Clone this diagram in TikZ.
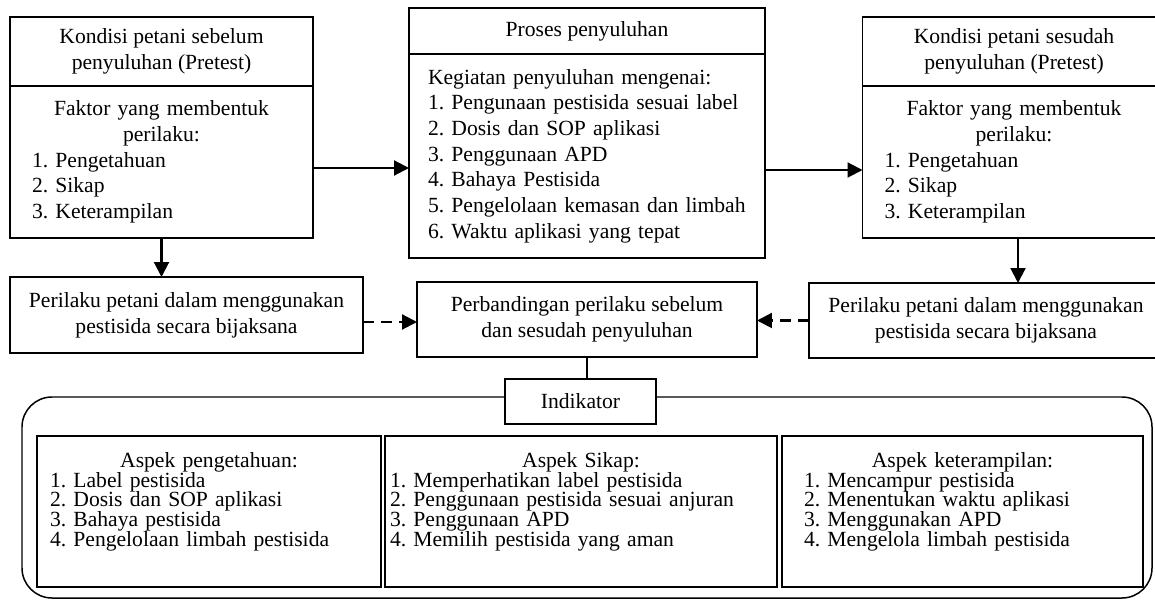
\documentclass[tikz,border=0pt]{standalone}
\usepackage{fontspec}
\setmainfont{Liberation Serif}
\usetikzlibrary{arrows.meta, positioning}
\setlength{\parindent}{0pt}
\frenchspacing

\begin{document}
\begin{tikzpicture}[>={Triangle[length=8.5pt, width=8.5pt]},
      font=\fontsize{12.3}{14.6}\selectfont,
      box/.style={draw, line width=0.75pt, outer sep=0pt, inner sep=0pt, align=center},
      hdr/.style={box, minimum width=6.06cm, minimum height=1.38cm},
      blk/.style={draw, line width=0.75pt, outer sep=0pt, inner ysep=0pt, align=left},
      aspbox/.style={blk, minimum height=3.02cm, font=\fontsize{12.3}{11.1}\selectfont,
                     execute at begin node={\lineskiplimit=-10pt\lineskip=0pt}},
      flow/.style={->, line width=1.2pt},
      dflow/.style={->, line width=1.2pt, dash pattern=on 6.3pt off 4pt}]
    \useasboundingbox (0,0) rectangle (23.1,-12.02);

    \node[hdr] (hdrL) at (3.23,-1.03) {Kondisi petani sebelum\\ penyuluhan (Pretest)};
    \node[blk, text width=5.18cm, inner xsep=0.44cm, minimum height=3.04cm,
          below=0pt of hdrL] (bodyL)
      {{\centering Faktor yang membentuk\\ perilaku:\par}\noindent
       1. Pengetahuan\\ 2. Sikap\\ 3. Keterampilan};

    \node[box, minimum width=7.12cm, minimum height=0.92cm] (hdrM) at (11.74,-0.62)
      {Proses penyuluhan};
    \node[blk, text width=6.36cm, inner xsep=0.38cm, minimum height=4.08cm,
          below=0pt of hdrM] (bodyM)
      {Kegiatan penyuluhan mengenai:\\ 1. Pengunaan pestisida sesuai label\\
       2. Dosis dan SOP aplikasi\\ 3. Penggunaan APD\\ 4. Bahaya Pestisida\\
       5. Pengelolaan kemasan dan limbah\\ 6. Waktu aplikasi yang tepat};

    \node[hdr] (hdrR) at (20.28,-1.03) {Kondisi petani sesudah\\ penyuluhan (Pretest)};
    \node[blk, text width=5.18cm, inner xsep=0.44cm, minimum height=3.04cm,
          below=0pt of hdrR] (bodyR)
      {{\centering Faktor yang membentuk\\ perilaku:\par}\noindent
       1. Pengetahuan\\ 2. Sikap\\ 3. Keterampilan};

    \node[box, minimum width=7.06cm, minimum height=1.52cm] (perilakuL) at (3.73,-6.30)
      {Perilaku petani dalam menggunakan\\ pestisida secara bijaksana};
    \node[box, minimum width=6.8cm, minimum height=1.5cm] (banding) at (11.74,-6.39)
      {Perbandingan perilaku sebelum\\ dan sesudah penyuluhan};
    \node[box, minimum width=7.08cm, minimum height=1.5cm] (perilakuR) at (19.72,-6.41)
      {Perilaku petani dalam menggunakan\\ pestisida secara bijaksana};

    \draw[flow] ([yshift=-1.2mm]bodyL.east) -- ([yshift=-1.2mm]bodyL.east -| bodyM.west);
    \draw[flow] ([yshift=-2.8mm]bodyM.east) -- ([yshift=-2.8mm]bodyM.east -| bodyR.west);
    \draw[flow] (bodyL.south) -- (bodyL.south |- perilakuL.north);
    \draw[flow] ([xshift=0.8mm]bodyR.south) -- ([xshift=0.8mm]bodyR.south |- perilakuR.north);
    \draw[dflow] ([yshift=-1.4mm]perilakuL.east) -- ([yshift=-1.4mm]perilakuL.east -| banding.west);
    \draw[dflow] (perilakuR.west) -- (perilakuR.west -| banding.east);

    \draw[line width=0.85pt, rounded corners=6mm] (0.44,-7.94) rectangle (23.04,-11.96);
    \node[box, fill=white, minimum width=3.02cm, minimum height=0.9cm] (indik) at (11.61,-8.03)
      {Indikator};
    \draw[line width=1.2pt] (banding.south) -- (banding.south |- indik.north);

    \node[aspbox, text width=6.36cm, inner xsep=0.26cm] (aspA) at (4.18,-10.23)
      {{\centering Aspek pengetahuan:\par}\noindent
       1. Label pestisida\\ 2. Dosis dan SOP aplikasi\\ 3. Bahaya pestisida\\
       4. Pengelolaan limbah pestisida\rule[-4.8mm]{0pt}{1pt}};
    \node[aspbox, text width=7.64cm, inner xsep=0.1cm] (aspB) at (11.62,-10.23)
      {{\centering Aspek Sikap:\par}\noindent
       1. Memperhatikan label pestisida\\ 2. Penggunaan pestisida sesuai anjuran\\
       3. Penggunaan APD\\ 4. Memilih pestisida yang aman\rule[-4.8mm]{0pt}{1pt}};
    \node[aspbox, text width=6.34cm, inner xsep=0.44cm] (aspC) at (19.25,-10.23)
      {{\centering Aspek keterampilan:\par}\noindent
       1. Mencampur pestisida\\ 2. Menentukan waktu aplikasi\\ 3. Menggunakan APD\\
       4. Mengelola limbah pestisida\rule[-4.8mm]{0pt}{1pt}};
  \end{tikzpicture}
\end{document}
